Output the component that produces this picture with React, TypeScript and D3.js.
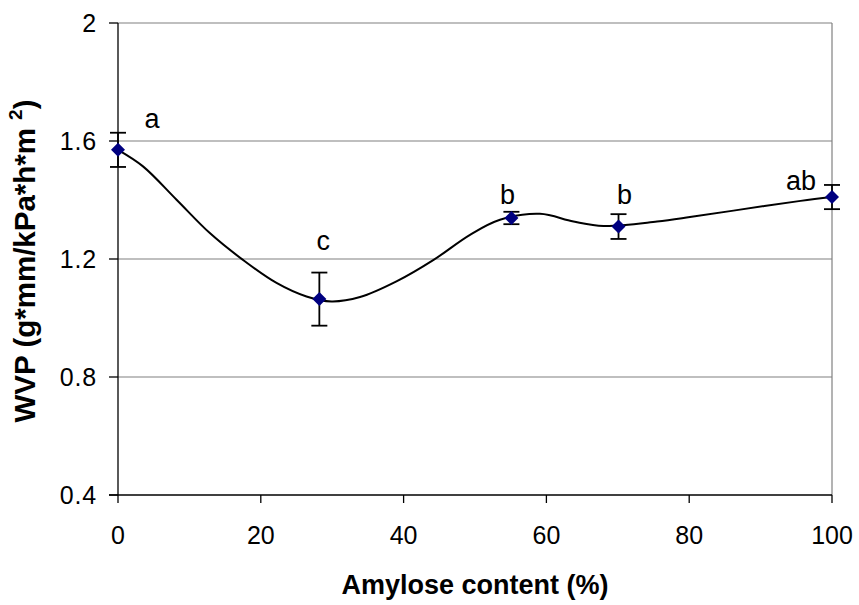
import React from 'react'
import * as d3 from 'd3'

// measured points (markers + error bars)
const amylose = [0, 28.2, 55.1, 70.1, 100]
const wvp = [1.57, 1.064, 1.339, 1.31, 1.41]
const wvpErr = [0.058, 0.09, 0.021, 0.042, 0.041]
const groups = ['a', 'c', 'b', 'b', 'ab']

// smoothed trend line
const lineX = [0, 3.5, 8.2, 12.9, 17.5, 22.2, 26.4, 29.9, 33.9, 39, 44.2, 49.3, 53.5, 59.1, 63.8, 68, 75.5, 80.1, 86.2, 95.6, 100]
const lineY = [1.57, 1.514, 1.401, 1.287, 1.197, 1.119, 1.073, 1.056, 1.071, 1.124, 1.197, 1.282, 1.333, 1.353, 1.327, 1.312, 1.327, 1.342, 1.364, 1.397, 1.41]

const xTicks = [0, 20, 40, 60, 80, 100]
const yTicks = [0.4, 0.8, 1.2, 1.6, 2]

const FONT = 'Liberation Sans, Arial, Helvetica, sans-serif'

// label nudges relative to each marker (px)
const labelNudge = [
  { dx: 34, dy: -22 },
  { dx: 4, dy: -49 },
  { dx: -4, dy: -14 },
  { dx: 6, dy: -23 },
  { dx: -31, dy: -7 },
]

const App = () => {
  const width = 859, height = 605
  const m = { left: 118, right: 832, top: 23, bottom: 495 }

  const x = d3.scaleLinear().domain([0, 100]).range([m.left, m.right])
  const y = d3.scaleLinear().domain([0.4, 2]).range([m.bottom, m.top])

  const line = d3.line<number>()
    .x((d, i) => x(lineX[i]))
    .y(d => y(d))
    .curve(d3.curveCatmullRom.alpha(0.5))

  const diamond = (cx: number, cy: number, r: number) =>
    `M${cx},${cy - r}L${cx + r},${cy}L${cx},${cy + r}L${cx - r},${cy}Z`

  return (
    <svg width={width} height={height} style={{ position: 'absolute', left: 0, top: 0, background: '#fff' }}
      fontFamily={FONT}>
      {/* gridlines */}
      {yTicks.filter(t => t > 0.4).map(t => (
        <line key={'g' + t} x1={m.left} x2={m.right} y1={y(t)} y2={y(t)} stroke="#808080" strokeWidth={1.2} />
      ))}
      <line x1={m.right} x2={m.right} y1={m.top} y2={m.bottom} stroke="#808080" strokeWidth={1.2} />

      {/* axes */}
      <line x1={m.left} x2={m.left} y1={m.top} y2={m.bottom} stroke="#000" strokeWidth={1.3} />
      <line x1={m.left - 9} x2={m.right} y1={m.bottom} y2={m.bottom} stroke="#000" strokeWidth={1.3} />
      {yTicks.map(t => (
        <g key={'y' + t}>
          <line x1={m.left - 9} x2={m.left} y1={y(t)} y2={y(t)} stroke="#000" strokeWidth={1.3} />
          <text x={97} y={y(t)} dy="0.36em" textAnchor="end" fontSize={25} letterSpacing={0.8}>{t === 2 ? '2' : t.toFixed(1)}</text>
        </g>
      ))}
      {xTicks.map(t => (
        <g key={'x' + t}>
          <line x1={x(t)} x2={x(t)} y1={m.bottom} y2={m.bottom + 8} stroke="#000" strokeWidth={1.3} />
          <text x={x(t)} y={544} textAnchor="middle" fontSize={25}>{t}</text>
        </g>
      ))}

      {/* trend line */}
      <path d={line(lineY) || ''} fill="none" stroke="#000" strokeWidth={2} />

      {/* error bars + markers */}
      {amylose.map((a, i) => {
        const cx = x(a), top = y(wvp[i] + wvpErr[i]), bot = y(wvp[i] - wvpErr[i])
        return (
          <g key={'p' + i}>
            <line x1={cx} x2={cx} y1={top} y2={bot} stroke="#000" strokeWidth={1.8} />
            <line x1={cx - 8} x2={cx + 8} y1={top} y2={top} stroke="#000" strokeWidth={1.8} />
            <line x1={cx - 8} x2={cx + 8} y1={bot} y2={bot} stroke="#000" strokeWidth={1.8} />
            <path d={diamond(cx, y(wvp[i]), 7)} fill="#000080" />
            <text x={cx + labelNudge[i].dx} y={y(wvp[i]) + labelNudge[i].dy} textAnchor="middle" fontSize={27}>{groups[i]}</text>
          </g>
        )
      })}

      {/* axis titles */}
      <text x={(m.left + m.right) / 2} y={594} textAnchor="middle" fontSize={27} fontWeight="bold">Amylose content (%)</text>
      <text transform={`translate(35, ${(m.top + m.bottom) / 2 + 2}) rotate(-90)`} textAnchor="middle" fontSize={29.5} fontWeight="bold">
        WVP (g*mm/kPa*h*m<tspan fontSize={19} dy={-13} dx={8}>2</tspan><tspan dy={13}>)</tspan>
      </text>
    </svg>
  )
}

export default App
